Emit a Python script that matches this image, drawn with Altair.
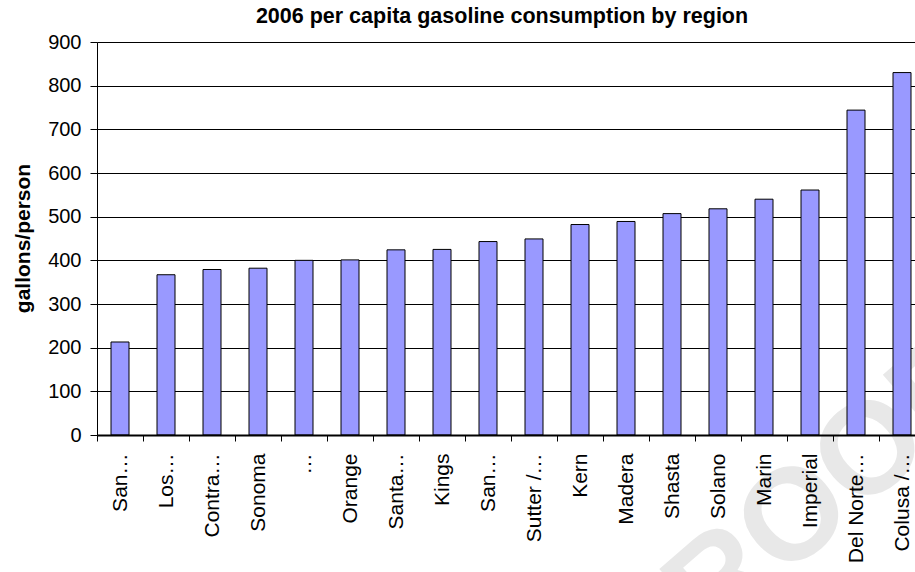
import json

import altair as alt
import pandas as pd

# Per-capita gasoline use by California region, 2006 (gallons per person)
regions = [
    "San…", "Los…", "Contra…", "Sonoma", "…", "Orange", "Santa…", "Kings",
    "San…", "Sutter /…", "Kern", "Madera", "Shasta", "Solano", "Marin",
    "Imperial", "Del Norte…", "Colusa /…",
]
gallons = [213, 367, 379, 382, 400, 401, 424, 425, 443, 449, 482, 489,
           507, 518, 540, 561, 744, 830]
y_ticks = [0, 100, 200, 300, 400, 500, 600, 700, 800, 900]

FONT = "Liberation Sans"

df = pd.DataFrame({
    "slot": list(range(len(regions))),
    "region": regions,
    "gallons": gallons,
})

# Two regions share the truncated name "San…", so bars are keyed by position
# and the axis looks the visible name up from the list.
label_expr = json.dumps(regions, ensure_ascii=False) + "[datum.value]"

x_enc = alt.X(
    "slot:O",
    sort=None,
    scale=alt.Scale(range=[0, 828], paddingInner=0, paddingOuter=0),
    axis=alt.Axis(
        title=None,
        labelExpr=label_expr,
        labelAngle=270,
        labelAlign="right",
        labelBaseline="middle",
        labelFont=FONT,
        labelFontSize=21,
        labelColor="#000",
        labelPadding=12,
        labelOverlap=False,
        tickBand="extent",
        tickSize=6,
        tickColor="#000",
        domainColor="#000",
        domainWidth=2,
        grid=False,
        zindex=1,
    ),
)

y_enc = alt.Y(
    "gallons:Q",
    scale=alt.Scale(domain=[0, 900], nice=False, zero=True),
    axis=alt.Axis(
        values=y_ticks,
        title="gallons/person",
        titleFont=FONT,
        titleFontSize=21,
        titleFontWeight="bold",
        titleColor="#000",
        titleX=-74,
        titleY=196,
        titleBaseline="middle",
        titleAngle=270,
        labelFont=FONT,
        labelFontSize=20,
        labelColor="#000",
        labelPadding=9,
        tickSize=7,
        tickColor="#000",
        domainColor="#000",
        domainWidth=1,
        grid=True,
        gridColor="#000",
        gridWidth=1,
    ),
)

bars = alt.Chart(df).mark_bar(
    size=18, fill="#9999FF", stroke="#000", strokeWidth=1
).encode(x=x_enc, y=y_enc, tooltip=["region", "gallons"])

stamp = alt.Chart(pd.DataFrame({"t": ["PROOF"]})).mark_text(
    font=FONT, fontSize=130, fontWeight="bold", color="#e8e8e8",
    angle=319, align="center", baseline="middle",
).encode(x=alt.value(698), y=alt.value(476), text="t:N")

chart = alt.layer(stamp, bars).properties(
    width=818,
    height=393,
    title=alt.TitleParams(
        "2006 per capita gasoline consumption by region",
        font=FONT,
        fontSize=21.5,
        fontWeight="bold",
        color="#000",
        anchor="middle",
        dx=-4,
        offset=5,
    ),
    autosize=alt.AutoSizeParams(type="none"),
    padding={"left": 97, "top": 42, "right": 0, "bottom": 137},
).configure_view(stroke=None).configure(background="#ffffff")

chart.save("out.html", embed_options={"renderer": "svg", "actions": False})
